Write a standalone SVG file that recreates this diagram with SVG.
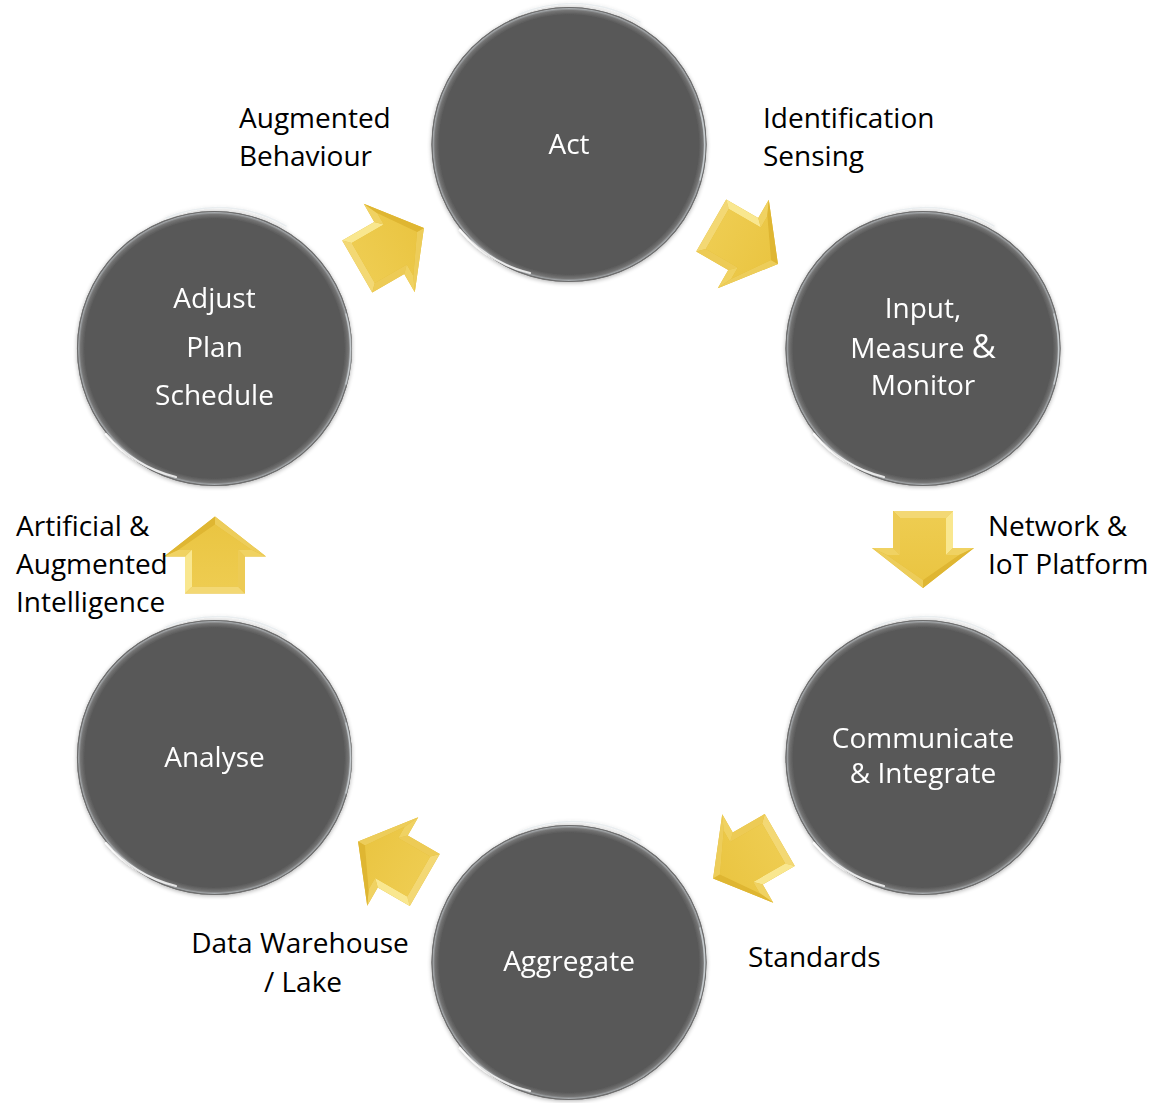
<svg xmlns="http://www.w3.org/2000/svg" width="1152" height="1103" viewBox="0 0 1152 1103">
<defs>
<style>
.lbl{font-family:"Open Sans","Noto Sans","Liberation Sans",sans-serif;font-size:28px;fill:#000}
.ctx{font-family:"Open Sans","Noto Sans","Liberation Sans",sans-serif;font-size:28px;fill:#fff;text-anchor:middle}
.disc{fill:url(#rim)}
.edge{fill:none;stroke:#6e6e6e;stroke-width:1.2}
.hl{fill:none;stroke:#ffffff;stroke-width:2.2;stroke-linecap:round;opacity:0.8}
.hl2{fill:none;stroke:#dfe6ea;stroke-width:1.6;stroke-linecap:round;opacity:0.6}
</style>
<radialGradient id="rim" cx="0.5" cy="0.5" r="0.5">
<stop offset="0" stop-color="#595959"/>
<stop offset="0.945" stop-color="#595959"/>
<stop offset="0.975" stop-color="#757575"/>
<stop offset="0.99" stop-color="#a9adb0"/>
<stop offset="1" stop-color="#707070"/>
</radialGradient>
<linearGradient id="ag" x1="0" y1="0" x2="0" y2="1">
<stop offset="0" stop-color="#EECC50"/>
<stop offset="1" stop-color="#EAC542"/>
</linearGradient>
<filter id="sh" x="-20%" y="-20%" width="140%" height="140%">
<feGaussianBlur in="SourceAlpha" stdDeviation="2"/>
<feOffset dx="0" dy="1"/>
<feComponentTransfer><feFuncA type="linear" slope="0.3"/></feComponentTransfer>
<feMerge><feMergeNode/><feMergeNode in="SourceGraphic"/></feMerge>
</filter>
<g id="arrow">
<polygon points="-30,-39 30,-39 30,-2 51,-2 0,38 -51,-2 -30,-2" fill="#E3BC38"/>
<polygon points="-30,-39 30,-39 23,-32 -23,-32" fill="#F3D874"/>
<polygon points="-30,-39 -23,-32 -23,5 -30,-2" fill="#EDCB55"/>
<polygon points="30,-39 30,-2 23,5 23,-32" fill="#F9E78F"/>
<polygon points="-30,-2 -51,-2 -36,5 -23,5" fill="#F0D262"/>
<polygon points="30,-2 51,-2 36,5 23,5" fill="#F0D262"/>
<polygon points="-51,-2 0,38 0,30 -36,5" fill="#EDCD5A"/>
<polygon points="51,-2 0,38 0,30 36,5" fill="#DFB632"/>
<polygon points="-23,-32 23,-32 23,5 36,5 0,30 -36,5 -23,5" fill="url(#ag)"/>
</g>
</defs>
<rect x="0" y="0" width="1152" height="1103" fill="#ffffff"/>

<g id="connectors">
<use href="#arrow" transform="translate(745,245) rotate(-60)"/>
<use href="#arrow" transform="translate(923,550)"/>
<use href="#arrow" transform="translate(746,859.5) rotate(60)"/>
<use href="#arrow" transform="translate(391,860.5) rotate(120)"/>
<use href="#arrow" transform="translate(215,554.5) rotate(180)"/>
<use href="#arrow" transform="translate(391,247) rotate(-120)"/>
</g>

<g id="node-act" filter="url(#sh)">
<circle class="disc" cx="569" cy="144.5" r="137.5"/>
<circle class="edge" cx="569" cy="144.5" r="137"/>
<path class="hl" d="M 460 230 A 134 134 0 0 0 530 273"/>
<path class="hl2" d="M 520 14 A 134 134 0 0 1 640 22"/>
<path class="hl2" d="M 700 110 A 134 134 0 0 1 700 180"/>
<text class="ctx" x="569" y="154">Act</text>
</g>

<g id="node-input" filter="url(#sh)">
<circle class="disc" cx="923" cy="348.5" r="137.5"/>
<circle class="edge" cx="923" cy="348.5" r="137"/>
<path class="hl" d="M 814 434 A 134 134 0 0 0 884 477"/>
<path class="hl2" d="M 874 218 A 134 134 0 0 1 994 226"/>
<path class="hl2" d="M 1054 314 A 134 134 0 0 1 1054 384"/>
<text class="ctx" x="923" y="318">Input,</text>
<text class="ctx" x="923" y="358">Measure <tspan font-size="33px">&amp;</tspan></text>
<text class="ctx" x="923" y="395">Monitor</text>
</g>

<g id="node-communicate" filter="url(#sh)">
<circle class="disc" cx="923" cy="757.5" r="137.5"/>
<circle class="edge" cx="923" cy="757.5" r="137"/>
<path class="hl" d="M 814 843 A 134 134 0 0 0 884 886"/>
<path class="hl2" d="M 874 627 A 134 134 0 0 1 994 635"/>
<path class="hl2" d="M 1054 723 A 134 134 0 0 1 1054 793"/>
<text class="ctx" x="923" y="748">Communicate</text>
<text class="ctx" x="923" y="783">&amp; Integrate</text>
</g>

<g id="node-aggregate" filter="url(#sh)">
<circle class="disc" cx="569" cy="962.5" r="137.5"/>
<circle class="edge" cx="569" cy="962.5" r="137"/>
<path class="hl" d="M 460 1048 A 134 134 0 0 0 530 1091"/>
<path class="hl2" d="M 520 832 A 134 134 0 0 1 640 840"/>
<path class="hl2" d="M 700 928 A 134 134 0 0 1 700 998"/>
<text class="ctx" x="569" y="971">Aggregate</text>
</g>

<g id="node-analyse" filter="url(#sh)">
<circle class="disc" cx="214.5" cy="757.5" r="137.5"/>
<circle class="edge" cx="214.5" cy="757.5" r="137"/>
<path class="hl" d="M 106 843 A 134 134 0 0 0 176 886"/>
<path class="hl2" d="M 166 627 A 134 134 0 0 1 286 635"/>
<path class="hl2" d="M 346 723 A 134 134 0 0 1 346 793"/>
<text class="ctx" x="214.5" y="767">Analyse</text>
</g>

<g id="node-adjust" filter="url(#sh)">
<circle class="disc" cx="214.5" cy="348.5" r="137.5"/>
<circle class="edge" cx="214.5" cy="348.5" r="137"/>
<path class="hl" d="M 106 434 A 134 134 0 0 0 176 477"/>
<path class="hl2" d="M 166 218 A 134 134 0 0 1 286 226"/>
<path class="hl2" d="M 346 314 A 134 134 0 0 1 346 384"/>
<text class="ctx" x="214.5" y="308">Adjust</text>
<text class="ctx" x="214.5" y="357">Plan</text>
<text class="ctx" x="214.5" y="405">Schedule</text>
</g>

<g id="labels">
<text class="lbl" x="239" y="128">Augmented</text>
<text class="lbl" x="239" y="166">Behaviour</text>
<text class="lbl" x="763" y="128">Identification</text>
<text class="lbl" x="763" y="166">Sensing</text>
<text class="lbl" x="988" y="536">Network &amp;</text>
<text class="lbl" x="988" y="574">IoT Platform</text>
<text class="lbl" x="748" y="967">Standards</text>
<text class="lbl" x="300" y="953" text-anchor="middle">Data Warehouse</text>
<text class="lbl" x="303" y="992" text-anchor="middle">/ Lake</text>
<text class="lbl" x="16" y="536">Artificial &amp;</text>
<text class="lbl" x="16" y="574">Augmented</text>
<text class="lbl" x="16" y="612">Intelligence</text>
</g>
</svg>
